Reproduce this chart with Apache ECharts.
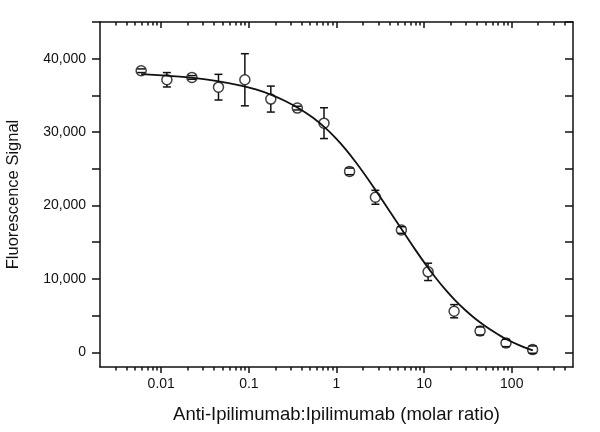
<!DOCTYPE html>
<html>
<head>
<meta charset="utf-8">
<script src="https://cdn.jsdelivr.net/npm/echarts@6/dist/echarts.min.js"></script>
<style>
html,body{margin:0;padding:0;background:#fff;}
#chart{width:600px;height:432px;}
</style>
</head>
<body>
<div id="chart"></div>
<script>
// ---- data ----
const ratios = [0.0059, 0.0116, 0.0224, 0.045, 0.09, 0.178, 0.357, 0.72, 1.41, 2.78, 5.5, 11.1, 22, 43.5, 86, 173];
const signal = [38360, 37130, 37450, 36120, 37130, 34500, 33270, 31220, 24650, 21120, 16660, 10960, 5600, 2910, 1270, 370];
const errors = [250, 980, 250, 1750, 3550, 1770, 250, 2100, 450, 950, 450, 1180, 900, 550, 500, 500];

// fitted curve, read at many points along the drawn line
const fitX = [0.0059, 0.0113, 0.0218, 0.042, 0.081, 0.12, 0.1775, 0.263, 0.39, 0.54, 0.75, 0.974, 1.266, 1.645, 2.14, 2.78, 3.61, 4.69, 6.1, 7.92, 10.3, 13.4, 17.4, 22.6, 29.4, 38.1, 49.6, 64.4, 83.7, 120.8, 174];
const fitY = [37910, 37690, 37430, 36990, 36340, 35810, 35110, 34210, 33090, 31950, 30540, 29220, 27690, 25970, 24100, 22130, 20110, 18060, 16010, 13990, 12050, 10230, 8570, 7090, 5770, 4610, 3590, 2690, 1880, 980, 260];

const xMajorTicks = [0.01, 0.1, 1, 10, 100];
const xTickLabels = ['0.01', '0.1', '1', '10', '100'];
const xMinorTicks = [0.003,0.004,0.005,0.006,0.007,0.008,0.009,
  0.02,0.03,0.04,0.05,0.06,0.07,0.08,0.09,
  0.2,0.3,0.4,0.5,0.6,0.7,0.8,0.9,
  2,3,4,5,6,7,8,9,
  20,30,40,50,60,70,80,90,
  200,300,400];
const yTicks = [0, 5000, 10000, 15000, 20000, 25000, 30000, 35000, 40000, 45000];
const yLabelValues = [0, 10000, 20000, 30000, 40000];
const yTickLabels = ['0', '10,000', '20,000', '30,000', '40,000'];

const xTitle = 'Anti-Ipilimumab:Ipilimumab (molar ratio)';
const yTitle = 'Fluorescence Signal';

const INK = '#111';
const FONT = 'Liberation Sans, Arial, sans-serif';

function logAxis(opts) {
  return Object.assign({
    type: 'log', min: 0.002, max: 500, logBase: 10,
    gridIndex: 0,
    splitLine: {show: false},
    axisLine: {show: false, onZero: false, lineStyle: {color: INK, width: 1.5}},
    axisTick: {show: false},
    axisLabel: {show: false},
    minorTick: {show: false},
    minorSplitLine: {show: false}
  }, opts);
}

const chart = echarts.init(document.getElementById('chart'), null, {renderer: 'canvas'});
chart.setOption({
  animation: false,
  backgroundColor: '#fff',
  grid: {left: 100, right: 27, top: 22, bottom: 65, containLabel: false, outerBoundsMode: 'none'},
  xAxis: [
    logAxis({
      position: 'bottom',
      axisLine: {show: true, onZero: false, lineStyle: {color: INK, width: 1.5}},
      axisTick: {show: true, inside: false, length: 6, customValues: xMajorTicks, lineStyle: {color: INK, width: 1.5}},
      axisLabel: {show: true, margin: 10, customValues: xMajorTicks, color: INK, fontSize: 14, fontFamily: FONT,
        formatter: function (v) { const k = xMajorTicks.indexOf(v); return k >= 0 ? xTickLabels[k] : ''; }},
      name: xTitle, nameLocation: 'middle', nameGap: 38,
      nameTextStyle: {color: INK, fontSize: 18.5, fontFamily: FONT}
    }),
    logAxis({
      position: 'bottom',
      axisTick: {show: true, inside: false, length: 3.5, customValues: xMinorTicks, lineStyle: {color: INK, width: 1.5}}
    }),
    logAxis({
      position: 'top',
      axisLine: {show: true, onZero: false, lineStyle: {color: INK, width: 1.5}},
      axisTick: {show: true, inside: true, length: 6, customValues: xMajorTicks, lineStyle: {color: INK, width: 1.5}}
    }),
    logAxis({
      position: 'top',
      axisTick: {show: true, inside: true, length: 3.5, customValues: xMinorTicks, lineStyle: {color: INK, width: 1.5}}
    })
  ],
  yAxis: [
    {
      type: 'value', min: -2000, max: 45000, position: 'left',
      splitLine: {show: false},
      axisLine: {show: true, onZero: false, lineStyle: {color: INK, width: 1.5}},
      axisTick: {show: true, inside: false, length: 8, customValues: yTicks, lineStyle: {color: INK, width: 1.5}},
      axisLabel: {show: true, margin: 14, customValues: yLabelValues, color: INK, fontSize: 14, fontFamily: FONT,
        formatter: function (v) { const k = yLabelValues.indexOf(v); return k >= 0 ? yTickLabels[k] : ''; }},
      name: yTitle, nameLocation: 'middle', nameGap: 78, nameRotate: 90,
      nameTextStyle: {color: INK, fontSize: 16.5, fontFamily: FONT}
    },
    {
      type: 'value', min: -2000, max: 45000, position: 'right',
      splitLine: {show: false},
      axisLine: {show: true, onZero: false, lineStyle: {color: INK, width: 1.5}},
      axisTick: {show: true, inside: true, length: 8, customValues: yTicks, lineStyle: {color: INK, width: 1.5}},
      axisLabel: {show: false}
    }
  ],
  series: [
    {
      type: 'scatter', xAxisIndex: 0, yAxisIndex: 0, z: 2,
      data: ratios.map((x, i) => [x, signal[i]]),
      symbol: 'circle', symbolSize: 10,
      itemStyle: {color: '#fff', borderColor: INK, borderWidth: 1.5},
      emphasis: {disabled: true}
    },
    {
      type: 'line', xAxisIndex: 0, yAxisIndex: 0, z: 3,
      data: fitX.map((x, i) => [x, fitY[i]]),
      showSymbol: false, smooth: 0.2,
      lineStyle: {color: INK, width: 1.8},
      emphasis: {disabled: true}
    },
    {
      type: 'custom', xAxisIndex: 0, yAxisIndex: 0, z: 4,
      data: ratios.map((x, i) => [x, signal[i], errors[i]]),
      encode: {x: 0, y: 1},
      renderItem: function (params, api) {
        const x = api.value(0), y = api.value(1), e = api.value(2);
        const c = api.coord([x, y]);
        const hi = api.coord([x, y + e]);
        const lo = api.coord([x, y - e]);
        const r = 5, cap = 4;
        const st = {stroke: INK, lineWidth: 1.5};
        const kids = [
          {type: 'line', shape: {x1: c[0] - cap, y1: hi[1], x2: c[0] + cap, y2: hi[1]}, style: st},
          {type: 'line', shape: {x1: c[0] - cap, y1: lo[1], x2: c[0] + cap, y2: lo[1]}, style: st}
        ];
        if (c[1] - hi[1] > r) kids.push({type: 'line', shape: {x1: c[0], y1: hi[1], x2: c[0], y2: c[1] - r}, style: st});
        if (lo[1] - c[1] > r) kids.push({type: 'line', shape: {x1: c[0], y1: c[1] + r, x2: c[0], y2: lo[1]}, style: st});
        return {type: 'group', children: kids};
      }
    }
  ]
});
</script>
</body>
</html>
